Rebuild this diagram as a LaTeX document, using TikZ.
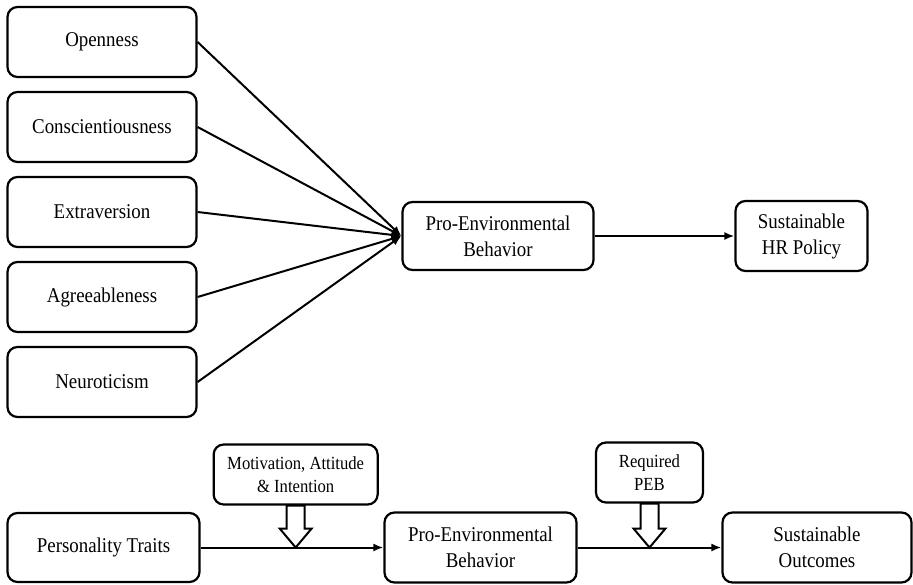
\documentclass[tikz,border=0pt]{standalone}
\usepackage{fontspec}
\setmainfont[FakeStretch=0.9]{Liberation Serif}
\usetikzlibrary{positioning,calc,arrows.meta}

\begin{document}
\begin{tikzpicture}[x=1pt, y=1pt,
    node distance=12.8pt,
    box/.style={draw, line width=2.2pt, rounded corners=10pt, align=center,
      inner sep=0pt, font=\fontsize{21}{26}\selectfont},
    trait/.style={box, minimum width=189pt, minimum height=70pt},
    smallbox/.style={box, minimum height=60pt, font=\fontsize{18.5}{23}\selectfont},
    conn/.style={line width=2pt, -{Latex[length=10pt,width=8pt]}},
    hollow/.style={line width=2pt, line join=miter, fill=white}]
  \useasboundingbox (0,0) rectangle (913,-584);

  % five traits, stacked
  \node (open) [trait] at (102,-42) {Openness};
  \node (consc) [trait, below=of open] {Conscientiousness};
  \node (extra) [trait, below=of consc] {Extraversion};
  \node (agree) [trait, below=of extra] {Agreeableness};
  \node (neuro) [trait, below=of agree] {Neuroticism};

  \node (peb) [box, minimum width=191pt, minimum height=68pt,
    right=203.8pt of extra, yshift=-24pt] {Pro-Environmental\\Behavior};
  \node (hr) [box, minimum width=132pt, minimum height=70pt,
    right=139.8pt of peb] {Sustainable\\HR Policy};

  \foreach \t in {open,consc,extra,agree,neuro}
    \draw[conn] (\t.east) -- (peb.west);
  \draw[conn] (peb.east) -- (hr.west);

  % lower chain
  \node (traits) [box, minimum width=192pt, minimum height=69pt,
    below=93.8pt of neuro, xshift=1.5pt] {Personality Traits};
  \node (peb2) [box, minimum width=192pt, minimum height=70pt,
    right=182.8pt of traits] {Pro-Environmental\\Behavior};
  \node (outc) [box, minimum width=189pt, minimum height=70pt,
    right=143.8pt of peb2] {Sustainable\\Outcomes};

  \draw[conn] (traits.east) -- (peb2.west);
  \draw[conn] (peb2.east) -- (outc.west);

  \coordinate (mid1) at ($(traits.east)!.52!(peb2.west)$);
  \coordinate (mid2) at ($(peb2.east)!.5!(outc.west)$);
  \node (mot) [smallbox, minimum width=164pt, above=41.9pt of mid1]
    {Motivation, Attitude\\\& Intention};
  \node (req) [smallbox, minimum width=107pt, above=43.9pt of mid2]
    {Required\\PEB};

  % hollow block arrows
  \foreach \b/\p in {mot/mid1, req/mid2}
    \draw[hollow] (\p) -- ++(16,19) coordinate (hd) -- ++(-7,0) coordinate (sr)
      -- (sr |- \b.south) -- ++(-18,0) coordinate (sl) -- (sl |- hd)
      -- ++(-7,0) -- cycle;
\end{tikzpicture}
\end{document}
